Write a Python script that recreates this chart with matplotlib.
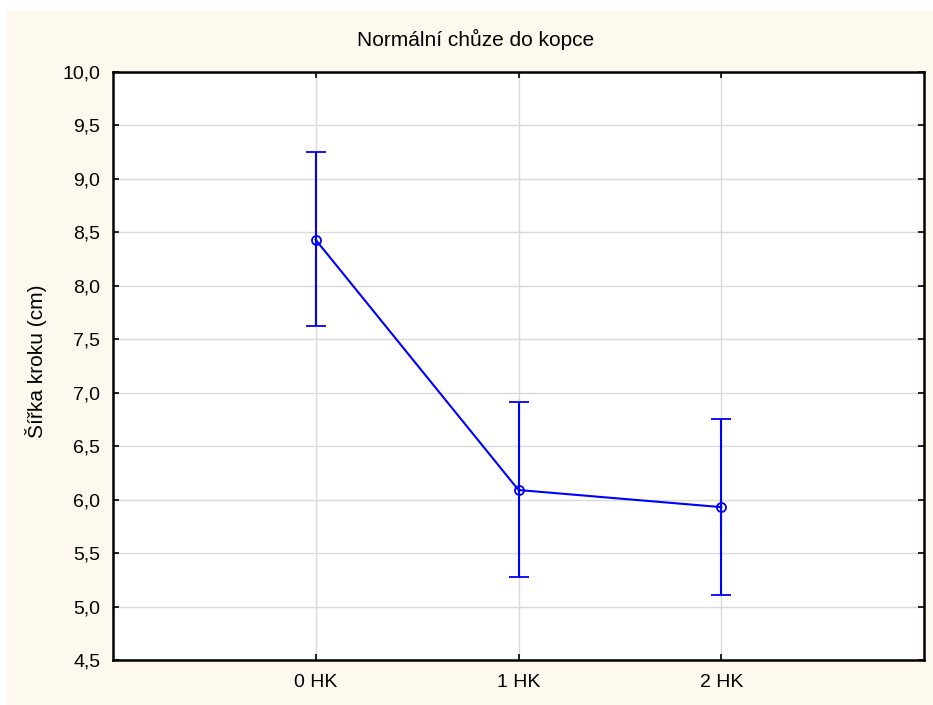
import matplotlib
matplotlib.use("Agg")
import matplotlib.pyplot as plt
from matplotlib.patches import Rectangle
from matplotlib.ticker import FuncFormatter

categories = ["0 HK", "1 HK", "2 HK"]
means = [8.43, 6.09, 5.93]
upper = [9.25, 6.91, 6.75]
lower = [7.62, 5.28, 5.11]
yticks = [4.5, 5.0, 5.5, 6.0, 6.5, 7.0, 7.5, 8.0, 8.5, 9.0, 9.5, 10.0]

plt.rcParams['font.family'] = ['Liberation Sans', 'DejaVu Sans']

fig = plt.figure(figsize=(9.33, 7.05), dpi=100)
fig.patch.set_facecolor('white')
W, H = 933, 705
fig.patches.append(Rectangle((6 / W, 0), 1 - 6 / W, 1 - 11 / H, transform=fig.transFigure,
                             facecolor='#FDF9EF', edgecolor='none', zorder=-10))

ax = fig.add_axes([113 / W, 1 - 660 / H, (924 - 113) / W, (660 - 72) / H])
ax.set_facecolor('white')

x = list(range(len(categories)))
yerr = [[m - l for m, l in zip(means, lower)], [u - m for u, m in zip(upper, means)]]
ax.errorbar(x, means, yerr=yerr, color='#0000FF', lw=1.5, elinewidth=1.5,
            capsize=7.5, capthick=1.5, marker='o', markersize=6.5,
            markerfacecolor='none', markeredgecolor='#0000FF', markeredgewidth=1.3, zorder=3)

ax.set_xlim(-1, 3)
ax.set_ylim(4.5, 10.0)
ax.set_xticks(x)
ax.set_xticklabels(categories)
ax.set_yticks(yticks)
ax.yaxis.set_major_formatter(FuncFormatter(lambda v, p: f"{v:.1f}".replace('.', ',')))
ax.grid(True, color='#DADADA', lw=1)
ax.set_axisbelow(True)
for s in ax.spines.values():
    s.set_linewidth(1.8)
    s.set_color('black')
ax.tick_params(direction='in', length=4, width=1.2, top=True, right=True,
               labelsize=14, colors='black')
ax.tick_params(axis='y', pad=9)
ax.tick_params(axis='x', pad=10)
fig.text(476 / W, 1 - 46 / H, "Normální chůze do kopce", fontsize=15,
         ha='center', va='baseline')
fig.text(36 / W, 1 - 361 / H, "Šířka kroku (cm)", fontsize=15,
         ha='center', va='center', rotation=90)

fig.savefig("out.png", dpi=100, facecolor=fig.get_facecolor())
